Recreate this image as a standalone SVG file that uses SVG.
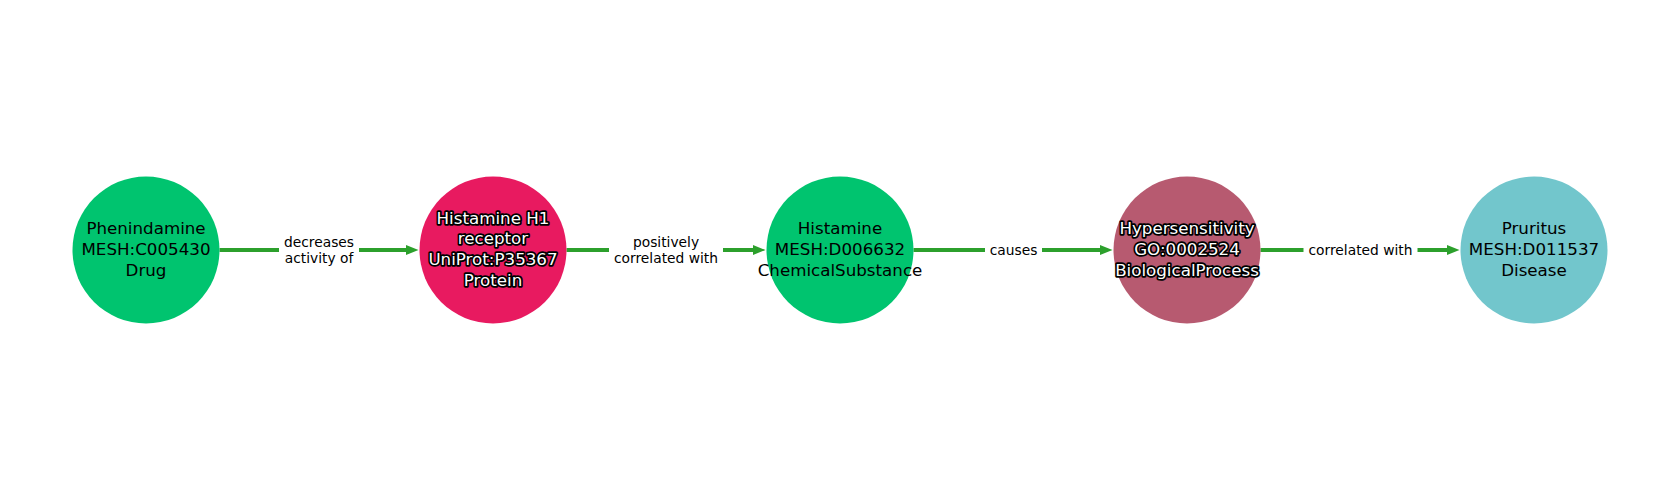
<svg xmlns="http://www.w3.org/2000/svg" width="1680" height="500" viewBox="0 0 1680 500">
<style>
.node text{font-family:"DejaVu Sans",sans-serif;font-size:16.7px;text-anchor:middle}
.dark text{fill:#000}
.halo text{fill:#fff;stroke:#000;stroke-width:3.5px;paint-order:stroke;stroke-linejoin:round}
.edge line{stroke:#2ca02c;stroke-width:4;marker-end:url(#ah)}
.lbl{font-family:"DejaVu Sans",sans-serif;font-size:13.8px;text-anchor:middle;fill:#000}
.bg{fill:#fff}
</style>
<defs>
<marker id="ah" markerUnits="userSpaceOnUse" markerWidth="13" markerHeight="12" viewBox="0 0 13 12" refX="1" refY="6" orient="auto">
<path d="M0,0.8 L13,6 L0,11.2 z" fill="#2ca02c"/>
</marker>
</defs>
<rect width="1680" height="500" fill="#fff"/>
<g id="edges">
<g class="edge"><line x1="219.5" y1="250" x2="406.5" y2="250"/><rect class="bg" x="279" y="232" width="80" height="36"/><text class="lbl" x="319" y="246.5">decreases</text><text class="lbl" x="319" y="262.5">activity of</text></g>
<g class="edge"><line x1="566.5" y1="250" x2="753.5" y2="250"/><rect class="bg" x="609" y="232" width="114" height="36"/><text class="lbl" x="666" y="246.5">positively</text><text class="lbl" x="666" y="262.5">correlated with</text></g>
<g class="edge"><line x1="913.5" y1="250" x2="1100.5" y2="250"/><rect class="bg" x="985" y="240" width="57" height="20"/><text class="lbl" x="1013.5" y="255.3">causes</text></g>
<g class="edge"><line x1="1260.5" y1="250" x2="1447.5" y2="250"/><rect class="bg" x="1303.5" y="240" width="114" height="20"/><text class="lbl" x="1360.5" y="255.3">correlated with</text></g>
</g>
<g id="n1" class="node dark"><circle cx="146" cy="250" r="73.5" fill="#00c46f"/><text x="146" y="234">Phenindamine</text><text x="146" y="254.8">MESH:C005430</text><text x="146" y="275.6">Drug</text></g>
<g id="n2" class="node halo"><circle cx="493" cy="250" r="73.5" fill="#e81a60"/><text x="493" y="223.6">Histamine H1</text><text x="493" y="244.4">receptor</text><text x="493" y="265.2">UniProt:P35367</text><text x="493" y="286">Protein</text></g>
<g id="n3" class="node dark"><circle cx="840" cy="250" r="73.5" fill="#00c46f"/><text x="840" y="234">Histamine</text><text x="840" y="254.8">MESH:D006632</text><text x="840" y="275.6">ChemicalSubstance</text></g>
<g id="n4" class="node halo"><circle cx="1187" cy="250" r="73.5" fill="#b75a70"/><text x="1187" y="234">Hypersensitivity</text><text x="1187" y="254.8">GO:0002524</text><text x="1187" y="275.6">BiologicalProcess</text></g>
<g id="n5" class="node dark"><circle cx="1534" cy="250" r="73.5" fill="#72c6cc"/><text x="1534" y="234">Pruritus</text><text x="1534" y="254.8">MESH:D011537</text><text x="1534" y="275.6">Disease</text></g>
</svg>
